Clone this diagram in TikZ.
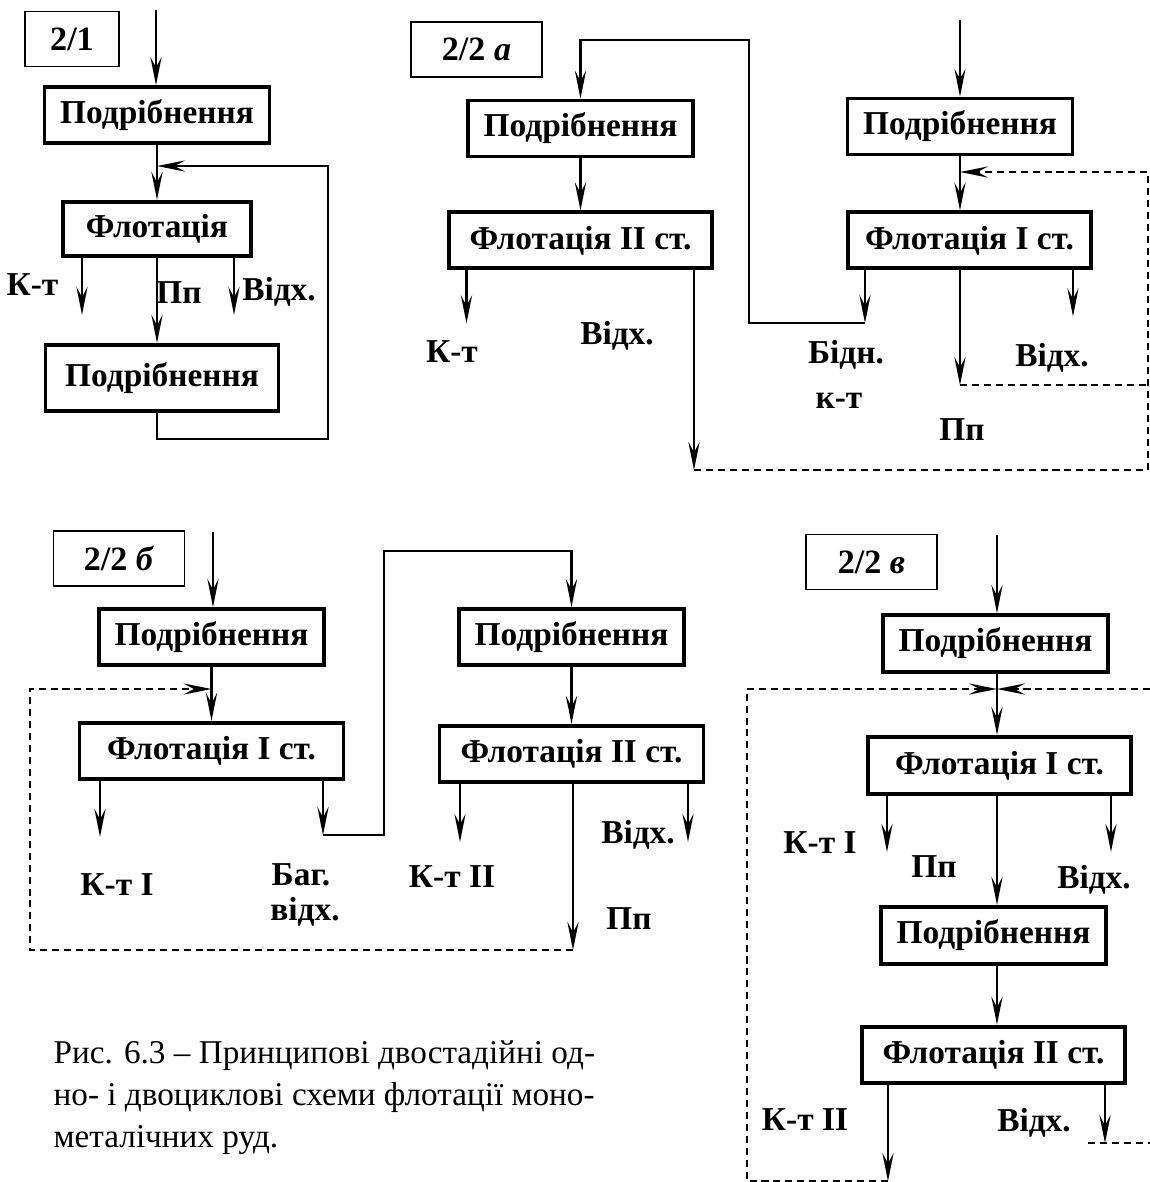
\documentclass[tikz,border=0pt]{standalone}
\usepackage{fontspec}
\setmainfont{Liberation Serif}
\usepackage{tikz}
\usetikzlibrary{
    arrows.meta,
    positioning
}
\tikzstyle{box} = [
    rectangle, draw,
    line width=1.1pt,
    minimum width=2.25cm,
    minimum height=0.56cm,
    inner sep=0pt,
    text centered,
    font=\fontsize{9.5}{11.5}\selectfont\bfseries
]
\tikzstyle{wide} = [
    box,
    minimum width=2.63cm
]
\tikzstyle{tag} = [
    rectangle, draw,
    line width=0.55pt,
    minimum width=1.31cm,
    minimum height=0.55cm,
    inner sep=0pt,
    font=\fontsize{9.7}{11.5}\selectfont\bfseries
]
\tikzstyle{lbl} = [
    anchor=base,
    inner sep=0pt,
    font=\fontsize{9.5}{11.5}\selectfont\bfseries
]
\tikzstyle{capline} = [
    anchor=base west,
    inner sep=0pt,
    font=\fontsize{9.45}{11.9}\selectfont
]
\tikzstyle{flow} = [
    line width=0.6pt
]
\tikzstyle{arrow} = [
    flow,
    -{Stealth[length=8pt, width=3.2pt, inset=3pt]}
]
\tikzstyle{back} = [
    flow,
    dash pattern=on 2pt off 1.4pt
]
\tikzstyle{backarrow} = [
    arrow,
    dash pattern=on 2pt off 1.4pt
]

\begin{document}
\begin{tikzpicture}

\useasboundingbox (0,0) rectangle (11.5,-11.82);

% схема 2/1
\node (tag21) [tag, minimum width=0.94cm] at (0.72,-0.39) {2/1};
\node (grind21) [box] at (1.57,-1.15) {Подрібнення};
\node (float21) [box, minimum width=1.88cm, minimum height=0.54cm,
    below=0.55cm of grind21] {Флотація};
\node (grind22) [box, minimum width=2.33cm, minimum height=0.66cm,
    below=0.85cm of float21, xshift=0.05cm] {Подрібнення};

\coordinate (in21) at (1.56,-0.10);
\coordinate (fb21) at (3.28,-1.66);

\draw [arrow] (in21) -- (in21 |- grind21.north);
\draw [arrow] (grind21.south) -- (grind21.south |- float21.north);
\draw [arrow] ([xshift=-0.75cm]float21.south) -- ++(0,-0.57);
\draw [arrow] (float21.south) -- (float21.south |- grind22.north);
\draw [arrow] ([xshift=0.77cm]float21.south) -- ++(0,-0.57);
\draw [arrow] (grind22.south -| float21.south) -- ++(0,-0.26)
              -| (fb21) -- (float21.north |- fb21);

\node (kt21) [lbl] at (0.325,-2.95) {К-т};
\node (pp21) [lbl] at (1.79,-3.03) {Пп};
\node (tl21) [lbl] at (2.79,-3.00) {Відх.};

% схема 2/2 а
\node (tag22a) [tag] at (4.765,-0.495) {2/2 \textit{а}};
\node (grindA2) [box] at (5.805,-1.285) {Подрібнення};
\node (floatA2) [wide, below=0.52cm of grindA2] {Флотація II ст.};
\node (grindA1) [box] at (9.60,-1.265) {Подрібнення};
\node (floatA1) [wide, minimum width=2.43cm,
    below=0.54cm of grindA1, xshift=0.095cm] {Флотація I ст.};

\coordinate (inA) at (9.60,-0.20);
\coordinate (poorA) at (8.65,-3.23);
\coordinate (turnA) at (7.49,-0.40);
\coordinate (ppA) at (9.60,-3.85);
\coordinate (tailA) at (6.94,-4.70);
\coordinate (edgeA) at (11.48,-1.72);

\draw [arrow] (inA) -- (inA |- grindA1.north);
\draw [arrow] (grindA1.south) -- (grindA1.south |- floatA1.north);
\draw [arrow] (floatA1.south -| poorA) -- (poorA);
\draw [arrow] (poorA) -| (turnA) -| (grindA2.north);
\draw [arrow] (grindA2.south) -- (grindA2.south |- floatA2.north);
\draw [arrow] ([xshift=-1.14cm]floatA2.south) -- ++(0,-0.53);
\draw [arrow] (floatA2.south -| tailA) -- (tailA);
\draw [arrow] (floatA1.south -| ppA) -- (ppA);
\draw [arrow] ([xshift=1.035cm]floatA1.south) -- ++(0,-0.46);
\draw [backarrow] (tailA) -| (edgeA) -- (edgeA -| ppA);
\draw [back] (ppA) -- (ppA -| edgeA);

\node (ktA) [lbl] at (4.52,-3.62) {К-т};
\node (tlA2) [lbl] at (6.17,-3.44) {Відх.};
\node (poorA1) [lbl] at (8.46,-3.63) {Бідн.};
\node (poorA2) [lbl] at (8.39,-4.08) {к-т};
\node (tlA1) [lbl] at (10.52,-3.66) {Відх.};
\node (ppA1) [lbl] at (9.62,-4.40) {Пп};

% схема 2/2 б
\node (tag22b) [tag] at (1.19,-5.585) {2/2 \textit{б}};
\node (grindB1) [box] at (2.115,-6.37) {Подрібнення};
\node (floatB1) [wide, minimum width=2.64cm,
    below=0.54cm of grindB1] {Флотація I ст.};
\node (grindB2) [box] at (5.715,-6.37) {Подрібнення};
\node (floatB2) [wide, minimum width=2.64cm,
    below=0.57cm of grindB2] {Флотація II ст.};

\coordinate (inB) at (2.13,-5.32);
\coordinate (poorB) at (3.23,-8.35);
\coordinate (turnB) at (3.84,-5.51);
\coordinate (ppB) at (5.73,-9.50);
\coordinate (edgeB) at (0.30,-6.89);

\draw [arrow] (inB) -- (inB |- grindB1.north);
\draw [arrow] (grindB1.south) -- (grindB1.south |- floatB1.north);
\draw [arrow] ([xshift=-1.115cm]floatB1.south) -- ++(0,-0.56);
\draw [arrow] (floatB1.south -| poorB) -- (poorB);
\draw [arrow] (poorB) -| (turnB) -| (grindB2.north);
\draw [arrow] (grindB2.south) -- (grindB2.south |- floatB2.north);
\draw [arrow] ([xshift=-1.115cm]floatB2.south) -- ++(0,-0.58);
\draw [arrow] (floatB2.south -| ppB) -- (ppB);
\draw [arrow] ([xshift=1.165cm]floatB2.south) -- ++(0,-0.58);
\draw [backarrow] (ppB) -| (edgeB) -- (edgeB -| grindB1.south);

\node (ktB1) [lbl] at (1.17,-8.95) {К-т I};
\node (richB1) [lbl] at (3.01,-8.85) {Баг.};
\node (richB2) [lbl] at (3.05,-9.20) {відх.};
\node (ktB2) [lbl] at (4.52,-8.87) {К-т II};
\node (tlB) [lbl] at (6.38,-8.43) {Відх.};
\node (ppB1) [lbl] at (6.29,-9.29) {Пп};

% схема 2/2 в
\node (tag22c) [tag] at (8.715,-5.62) {2/2 \textit{в}};
\node (grindC1) [box, minimum height=0.57cm] at (9.955,-6.435) {Подрібнення};
\node (floatC1) [wide, minimum height=0.57cm,
    below=0.61cm of grindC1, xshift=0.04cm] {Флотація I ст.};
\node (grindC2) [box, minimum height=0.57cm,
    below=1.09cm of floatC1, xshift=-0.06cm] {Подрібнення};
\node (floatC2) [wide, below=0.59cm of grindC2] {Флотація II ст.};

\coordinate (inC) at (9.97,-5.35);
\coordinate (edgeCL) at (7.47,-6.89);
\coordinate (edgeCR) at (11.50,-6.89);
\coordinate (concC) at (8.88,-11.81);
\coordinate (tailC) at (11.05,-11.43);

\draw [arrow] (inC) -- (inC |- grindC1.north);
\draw [arrow] (inC |- grindC1.south) -- (inC |- floatC1.north);
\draw [arrow] ([xshift=-1.125cm]floatC1.south) -- ++(0,-0.56);
\draw [arrow] (inC |- floatC1.south) -- (inC |- grindC2.north);
\draw [arrow] ([xshift=1.115cm]floatC1.south) -- ++(0,-0.56);
\draw [arrow] (inC |- grindC2.south) -- (inC |- floatC2.north);
\draw [arrow] (floatC2.south -| concC) -- (concC);
\draw [arrow] (floatC2.south -| tailC) -- (tailC);
\draw [backarrow] (concC) -| (edgeCL) -- (edgeCL -| inC);
\draw [backarrow] (edgeCR) -- (edgeCR -| inC);
\draw [back] ([xshift=-0.17cm]tailC) -- (tailC -| edgeCR);

\node (ktC1) [lbl] at (8.20,-8.53) {К-т I};
\node (ppC) [lbl] at (9.34,-8.77) {Пп};
\node (tlC1) [lbl] at (10.94,-8.88) {Відх.};
\node (ktC2) [lbl] at (8.05,-11.30) {К-т II};
\node (tlC2) [lbl] at (10.34,-11.31) {Відх.};

% підпис
\node (cap1) [capline] at (0.53,-10.63)
    {Рис. 6.3 – Принципові двостадійні од-};
\node (cap2) [capline] at ([yshift=-0.42cm]cap1.base west)
    {но- і двоциклові схеми флотації моно-};
\node (cap3) [capline] at ([yshift=-0.42cm]cap2.base west)
    {металічних руд.};

\end{tikzpicture}
\end{document}
